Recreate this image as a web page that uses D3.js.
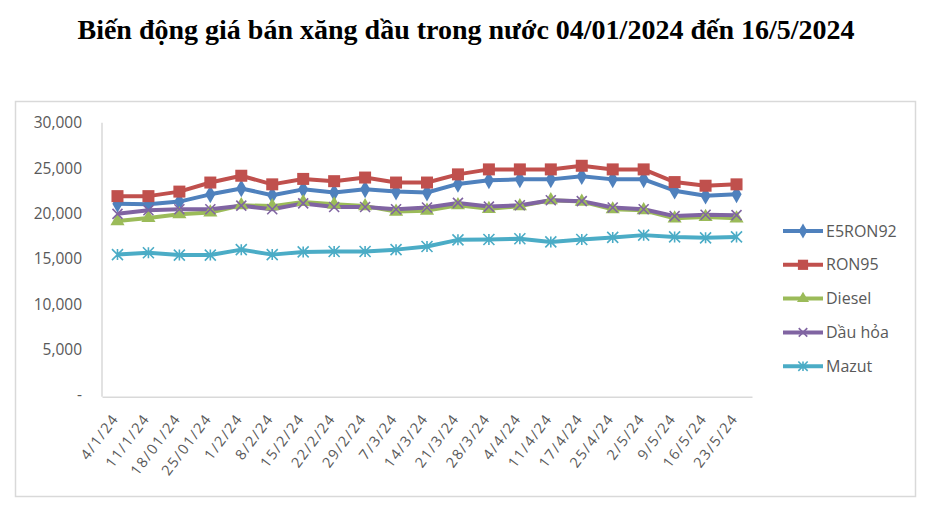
<!DOCTYPE html>
<html><head><meta charset="utf-8">
<script src="https://cdn.jsdelivr.net/npm/d3@7"></script>
<style>
body{margin:0;background:#fff;}
svg{display:block;}
</style></head>
<body>
<script>
const categories = ["4/1/24","11/1/24","18/01/24","25/01/24","1/2/24","8/2/24","15/2/24","22/2/24","29/2/24","7/3/24","14/3/24","21/3/24","28/3/24","4/4/24","11/4/24","17/4/24","25/4/24","2/5/24","9/5/24","16/5/24","23/5/24"];
const e5ron92 = [21050,21000,21300,22100,22750,22000,22650,22300,22650,22400,22300,23250,23650,23750,23750,24100,23750,23750,22500,21950,22100];
const ron95   = [21900,21900,22400,23400,24150,23200,23800,23550,23950,23400,23400,24300,24850,24850,24850,25250,24850,24850,23450,23050,23200];
const diesel  = [19150,19500,19900,20100,20900,20800,21250,21000,20800,20200,20300,20900,20500,20800,21450,21300,20450,20350,19450,19600,19450];
const dauhoa  = [19950,20350,20450,20450,20850,20450,21100,20700,20700,20450,20650,21150,20750,20900,21450,21350,20650,20450,19700,19850,19800];
const mazut   = [15450,15650,15400,15400,16000,15450,15750,15800,15800,16000,16350,17080,17120,17200,16850,17120,17350,17600,17400,17300,17400];
const seriesNames = ["E5RON92","RON95","Diesel","Dầu hỏa","Mazut"];
const yTicks = [0,5000,10000,15000,20000,25000,30000];
const title = "Biến động giá bán xăng dầu trong nước 04/01/2024 đến 16/5/2024";

(function(){
const series = [
  {name: seriesNames[0], values: e5ron92, color:"#4f81bd", marker:"diamond"},
  {name: seriesNames[1], values: ron95,   color:"#c0504d", marker:"square"},
  {name: seriesNames[2], values: diesel,  color:"#9bbb59", marker:"triangle"},
  {name: seriesNames[3], values: dauhoa,  color:"#8064a2", marker:"x"},
  {name: seriesNames[4], values: mazut,   color:"#4bacc6", marker:"star"}
];

const W = 931, H = 505;
const svg = d3.select("body").append("svg").attr("width", W).attr("height", H);

svg.append("text").attr("x", 466).attr("y", 39).attr("text-anchor","middle")
  .attr("font-family","'Liberation Serif','Times New Roman',serif").attr("font-weight","bold")
  .attr("font-size", 28).attr("fill","#000").text(title);

svg.append("rect").attr("x",15.5).attr("y",101.5).attr("width",900).attr("height",395)
  .attr("fill","none").attr("stroke","#d9d9d9").attr("stroke-width",1.5);

const pLeft = 102, pRight = 752, pTop = 122.7, pBottom = 394.7;
const x = d3.scaleBand().domain(categories).range([pLeft, pRight]);
const y = d3.scaleLinear().domain([0,30000]).range([pBottom, pTop]);
const font = "'Open Sans','Noto Sans',sans-serif";

// y axis
const yAxis = d3.axisLeft(y).tickValues(yTicks).tickSize(0).tickPadding(20)
  .tickFormat(d => d === 0 ? "-" : d3.format(",")(d));
const gy = svg.append("g").attr("transform",`translate(${pLeft},0)`).call(yAxis);
gy.select(".domain").attr("stroke","#d9d9d9").attr("stroke-width",1.5)
  .attr("d", `M0,${pTop}V${pBottom+2}`);
gy.selectAll("text").attr("font-family",font).attr("font-size",15.5).attr("fill","#595959");

// x axis
const xAxis = d3.axisBottom(x).tickSize(0).tickPadding(0);
const gx = svg.append("g").attr("transform",`translate(0,${pBottom+2})`).call(xAxis);
gx.select(".domain").attr("stroke","#d9d9d9").attr("stroke-width",1.5);
gx.selectAll("text").attr("font-family",font).attr("font-size",14.5).attr("fill","#595959")
  .attr("letter-spacing","1.5px")
  .attr("text-anchor","end").attr("dy",null).attr("y",0)
  .attr("transform","translate(2,22) rotate(-53)");

const cx = d => x(d) + x.bandwidth()/2;
const line = d3.line().x((d,i)=>cx(categories[i])).y(d=>y(d));

function drawMarker(g, type, color, size){
  if(type==="diamond"){
    g.append("path").attr("d", d3.symbol(d3.symbolDiamond, size*size*0.75)()).attr("fill",color);
  } else if(type==="square"){
    g.append("rect").attr("x",-size/2).attr("y",-size/2).attr("width",size).attr("height",size).attr("fill",color);
  } else if(type==="triangle"){
    g.append("path").attr("d", d3.symbol(d3.symbolTriangle, size*size*0.6)()).attr("fill",color);
  } else if(type==="x"){
    const s = size/2;
    g.append("path").attr("d",`M${-s},${-s}L${s},${s}M${-s},${s}L${s},${-s}`).attr("stroke",color).attr("stroke-width",1.6);
  } else if(type==="star"){
    const s = size/2;
    g.append("path").attr("d",`M${-s},${-s}L${s},${s}M${-s},${s}L${s},${-s}M0,${-s}V${s}`).attr("stroke",color).attr("stroke-width",1.6);
  }
}

const sizes = {diamond:11, square:12, triangle:12, x:10, star:11};
series.forEach(s => {
  svg.append("path").datum(s.values).attr("d", line).attr("fill","none")
    .attr("stroke", s.color).attr("stroke-width", 4).attr("stroke-linejoin","round");
});
series.forEach(s => {
  s.values.forEach((v,i) => {
    const g = svg.append("g").attr("transform",`translate(${cx(categories[i])},${y(v)})`);
    drawMarker(g, s.marker, s.color, sizes[s.marker]);
  });
});

// legend
series.forEach((s,i) => {
  const ly = 231 + i*33.8;
  const g = svg.append("g").attr("transform",`translate(0,${ly})`);
  g.append("line").attr("x1",783).attr("x2",823).attr("y1",0).attr("y2",0).attr("stroke",s.color).attr("stroke-width",4);
  const m = g.append("g").attr("transform","translate(803,0)");
  drawMarker(m, s.marker, s.color, sizes[s.marker]*0.85);
  g.append("text").attr("x",826).attr("y",0).attr("dy","0.35em").attr("font-family",font)
    .attr("font-size",16).attr("fill","#595959").text(s.name);
});
})();
</script>
</body></html>
